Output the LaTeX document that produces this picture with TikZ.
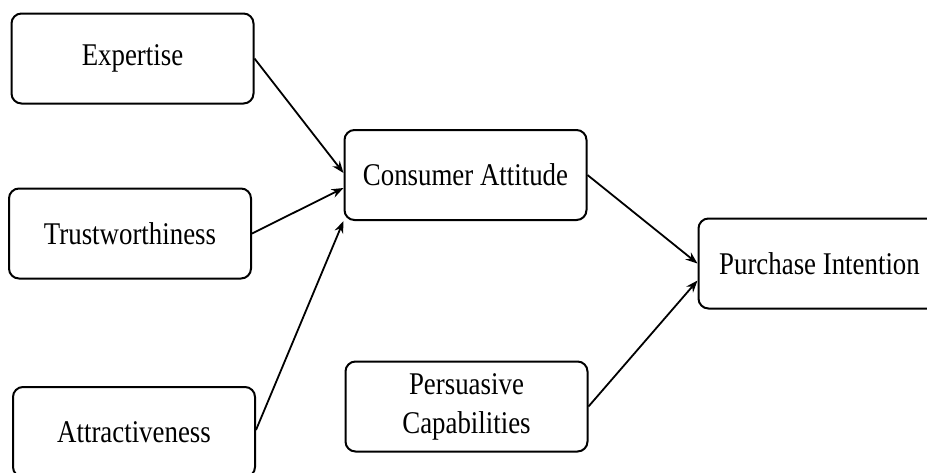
\documentclass[tikz,border=0pt]{standalone}
\usepackage{fontspec}
\setmainfont{Liberation Serif}[FakeStretch=0.85]
\usetikzlibrary{positioning,arrows.meta}

\begin{document}
\begin{tikzpicture}[x=0.5pt,y=-0.5pt,font=\fontsize{15.8}{19.5}\selectfont]
\tikzstyle{factor node}=[draw,rounded corners=5pt,line width=1pt,minimum width=121pt,minimum height=45pt,align=center,inner sep=2pt]
\tikzstyle{link}=[-{Stealth[length=6pt,width=4.5pt]},line width=0.9pt]
\useasboundingbox (0,0) rectangle (927,472);
\node(ex)[factor node] at (132.5,58.5){Expertise};
\node(tr)[factor node] at (130,233.5){Trustworthiness};
\node(at)[factor node] at (134,432){Attractiveness};
\node(ca)[factor node] at (465.5,175){Consumer Attitude};
\node(pc)[factor node] at (466.5,406.5){Persuasive\\Capabilities};
\node(pi)[factor node] at (819.5,263.5){Purchase Intention};
\draw[link] (ex.east) -- ([yshift=1pt]ca.west);
\draw[link] (tr.east) -- ([yshift=-6.5pt]ca.west);
\draw[link] ([yshift=1pt]at.east) -- (ca.south west);
\draw[link] (ca.east) -- (pi.west);
\draw[link] (pc.east) -- ([yshift=-8.5pt]pi.west);
\end{tikzpicture}
\end{document}
